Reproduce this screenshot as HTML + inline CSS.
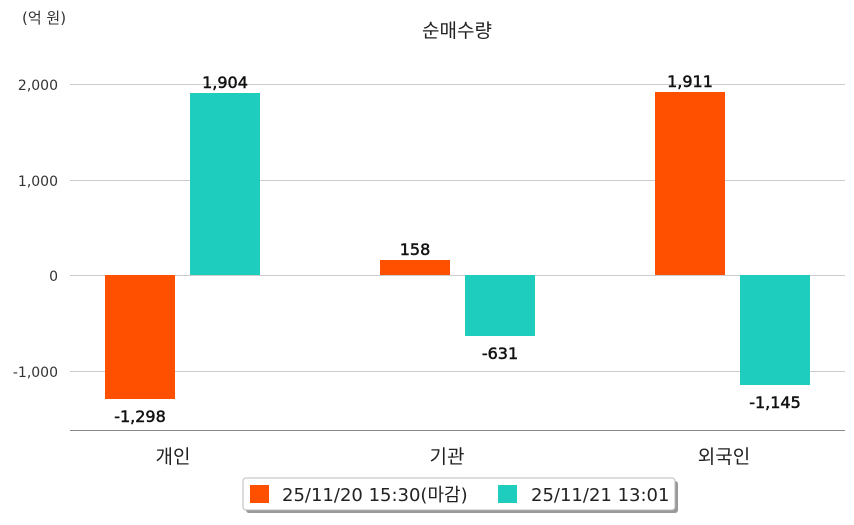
<!DOCTYPE html>
<html><head><meta charset="utf-8"><style>
body{margin:0;background:#fff;}
text{font-family:"DejaVu Sans","Noto Sans CJK KR",sans-serif;}
</style></head><body>
<svg width="854" height="520" xmlns="http://www.w3.org/2000/svg">
<rect width="854" height="520" fill="#fff"/>
<text x="22" y="23" font-size="15" fill="#333">(억 원)</text>
<text x="457" y="37" font-size="19" fill="#222" text-anchor="middle">순매수량</text>
<g stroke="#ccc" stroke-width="1">
<line x1="70" y1="84.5" x2="845" y2="84.5"/>
<line x1="70" y1="180.5" x2="845" y2="180.5"/>
<line x1="70" y1="275.5" x2="845" y2="275.5"/>
<line x1="70" y1="371.5" x2="845" y2="371.5"/>
</g>
<line x1="70" y1="430.5" x2="845" y2="430.5" stroke="#888" stroke-width="1"/>
<g font-size="14" fill="#333" text-anchor="end">
<text x="58" y="90">2,000</text>
<text x="58" y="186">1,000</text>
<text x="58" y="281">0</text>
<text x="58" y="377">-1,000</text>
</g>
<rect x="105" y="275" width="70" height="124" fill="#ff5000"/>
<rect x="190" y="93" width="70" height="182" fill="#1ecdbd"/>
<rect x="380" y="260" width="70" height="15" fill="#ff5000"/>
<rect x="465" y="275" width="70" height="61" fill="#1ecdbd"/>
<rect x="655" y="92" width="70" height="183" fill="#ff5000"/>
<rect x="740" y="275" width="70" height="110" fill="#1ecdbd"/>
<g font-size="16" fill="#111" text-anchor="middle" stroke="#111" stroke-width="0.5">
<text x="140" y="422">-1,298</text>
<text x="225" y="88">1,904</text>
<text x="415" y="255">158</text>
<text x="500" y="359">-631</text>
<text x="690" y="87">1,911</text>
<text x="775" y="408">-1,145</text>
</g>
<g font-size="19" fill="#222" text-anchor="middle">
<text x="173" y="463">개인</text>
<text x="447" y="463">기관</text>
<text x="724" y="463">외국인</text>
</g>
<rect x="246" y="481" width="432" height="32" rx="3" fill="#999"/>
<rect x="243" y="478" width="432" height="32" rx="3" fill="#fff" stroke="#bbb"/>
<rect x="250" y="485" width="19" height="18" fill="#ff5000"/>
<text x="282" y="501" font-size="18" fill="#222">25/11/20 15:30(마감)</text>
<rect x="498" y="485" width="19" height="18" fill="#1ecdbd"/>
<text x="531" y="501" font-size="18" fill="#222">25/11/21 13:01</text>
</svg>
</body></html>
